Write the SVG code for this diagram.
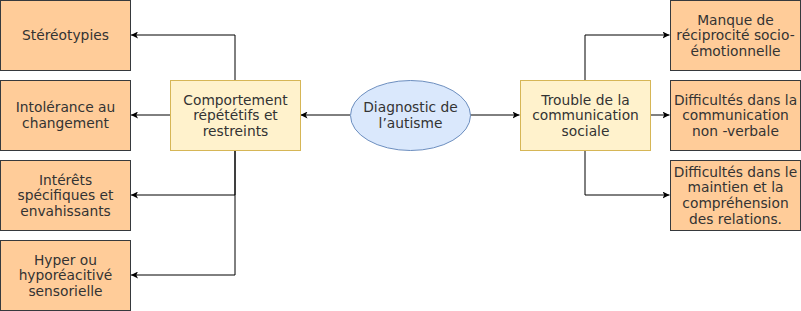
<svg xmlns="http://www.w3.org/2000/svg" width="801" height="311" viewBox="0 0 801 311">
<defs>
<style>
.leaf{fill:#ffcc99;stroke:#36393d;stroke-width:1}
.mid{fill:#fff2cc;stroke:#d6b656;stroke-width:1}
.root{fill:#dae8fc;stroke:#6c8ebf;stroke-width:1}
text{font-family:"DejaVu Sans",Verdana,sans-serif;font-size:13.8px;fill:#333333;text-anchor:middle}
.edge{fill:none;stroke:#000000;stroke-width:1}
</style>
<marker id="arr" viewBox="0 0 10 10" refX="10" refY="5" markerWidth="7" markerHeight="7" markerUnits="userSpaceOnUse" orient="auto">
<path d="M0,0 L10,5 L0,10 L2.5,5 Z" fill="#000000"/>
</marker>
</defs>
<rect width="801" height="311" fill="#ffffff"/>
<g id="connectors">
<path class="edge" d="M235,80 V35 H131" marker-end="url(#arr)"/>
<path class="edge" d="M170,115 H131" marker-end="url(#arr)"/>
<path class="edge" d="M235,150 V195 H131" marker-end="url(#arr)"/>
<path class="edge" d="M235,150 V275 H131" marker-end="url(#arr)"/>
<path class="edge" d="M350,115 H300.5" marker-end="url(#arr)"/>
<path class="edge" d="M470,115 H519.5" marker-end="url(#arr)"/>
<path class="edge" d="M585,80 V35 H669.5" marker-end="url(#arr)"/>
<path class="edge" d="M650,115 H669.5" marker-end="url(#arr)"/>
<path class="edge" d="M585,150 V195 H669.5" marker-end="url(#arr)"/>
</g>
<g id="stereotypies">
<rect class="leaf" x="0.5" y="0.5" width="130" height="70"/>
<text x="65.5" y="40.3">Stéréotypies</text>
</g>
<g id="intolerance">
<rect class="leaf" x="0.5" y="80.5" width="130" height="70"/>
<text x="65.5" y="112.4">Intolérance au</text>
<text x="65.5" y="128.2">changement</text>
</g>
<g id="interets">
<rect class="leaf" x="0.5" y="160.5" width="130" height="70"/>
<text x="65.5" y="184.5">Intérêts</text>
<text x="65.5" y="200.3">spécifiques et</text>
<text x="65.5" y="216.1">envahissants</text>
</g>
<g id="hyper">
<rect class="leaf" x="0.5" y="240.5" width="130" height="70"/>
<text x="65.5" y="264.5">Hyper ou</text>
<text x="65.5" y="280.3">hyporéacitivé</text>
<text x="65.5" y="296.1">sensorielle</text>
</g>
<g id="comportement">
<rect class="mid" x="170.5" y="80.5" width="130" height="70"/>
<text x="235.5" y="104.5">Comportement</text>
<text x="235.5" y="120.3">répététifs et</text>
<text x="235.5" y="136.1">restreints</text>
</g>
<g id="diagnostic">
<ellipse class="root" cx="410.5" cy="115.5" rx="60" ry="35"/>
<text x="410.5" y="112.4">Diagnostic de</text>
<text x="410.5" y="128.2">l’autisme</text>
</g>
<g id="trouble">
<rect class="mid" x="520.5" y="80.5" width="130" height="70"/>
<text x="585.5" y="104.5">Trouble de la</text>
<text x="585.5" y="120.3">communication</text>
<text x="585.5" y="136.1">sociale</text>
</g>
<g id="manque">
<rect class="leaf" x="670.5" y="0.5" width="130" height="70"/>
<text x="735.5" y="24.5">Manque de</text>
<text x="735.5" y="40.3">réciprocité socio-</text>
<text x="735.5" y="56.1">émotionnelle</text>
</g>
<g id="nonverbale">
<rect class="leaf" x="670.5" y="80.5" width="130" height="70"/>
<text x="735.5" y="104.5">Difficultés dans la</text>
<text x="735.5" y="120.3">communication</text>
<text x="735.5" y="136.1">non -verbale</text>
</g>
<g id="relations">
<rect class="leaf" x="670.5" y="160.5" width="130" height="70"/>
<text x="735.5" y="176.6">Difficultés dans le</text>
<text x="735.5" y="192.4">maintien et la</text>
<text x="735.5" y="208.2">compréhension</text>
<text x="735.5" y="224">des relations.</text>
</g>
</svg>
